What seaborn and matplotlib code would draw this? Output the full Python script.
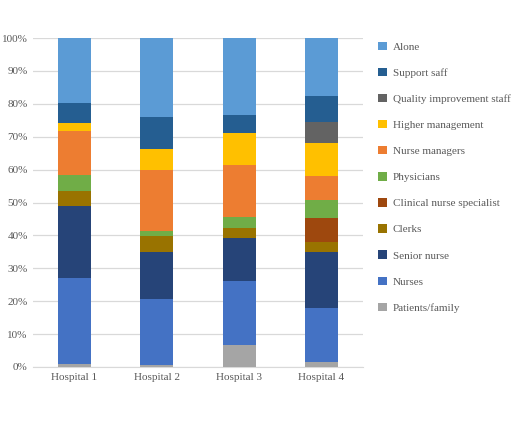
import numpy as np
import pandas as pd
import matplotlib
matplotlib.use("Agg")
import matplotlib.pyplot as plt
import seaborn as sns
from matplotlib.patches import Patch

hospitals = ["Hospital 1", "Hospital 2", "Hospital 3", "Hospital 4"]

# bottom-to-top stacking order
patients_family = [1.0, 0.5, 6.6, 1.5]
nurses = [26.1, 20.2, 19.6, 16.5]
senior_nurse = [21.7, 14.4, 13.0, 17.1]
clerks = [4.7, 4.6, 3.2, 3.0]
clinical_nurse_specialist = [0.0, 0.0, 0.0, 7.2]
physicians = [4.8, 1.7, 3.3, 5.5]
nurse_managers = [13.5, 18.4, 15.8, 7.4]
higher_management = [2.3, 6.4, 9.7, 9.9]
quality_improvement = [0.0, 0.0, 0.0, 6.4]
support_saff = [6.2, 9.7, 5.5, 7.9]
alone = [19.7, 24.1, 23.3, 17.6]

series_names = ["Patients/family", "Nurses", "Senior nurse", "Clerks",
                "Clinical nurse specialist", "Physicians", "Nurse managers",
                "Higher management", "Quality improvement staff",
                "Support saff", "Alone"]
series_values = [patients_family, nurses, senior_nurse, clerks,
                 clinical_nurse_specialist, physicians, nurse_managers,
                 higher_management, quality_improvement, support_saff, alone]
colors = ["#A5A5A5", "#4472C4", "#264478", "#997300", "#9E480E", "#70AD47",
          "#ED7D31", "#FFC000", "#636363", "#255E91", "#5B9BD5"]

plt.rcParams["font.family"] = ["Liberation Serif", "DejaVu Serif"]
text_color = "#595959"

fig = plt.figure(figsize=(5.27, 4.32), dpi=100)
ax = fig.add_axes([0.063, 0.1505, 0.625, 0.7615])

vals = np.array(series_values)
cum = np.cumsum(vals, axis=0)
cum = cum / cum[-1] * 100

for i in range(len(series_names) - 1, -1, -1):
    df = pd.DataFrame({"Hospital": hospitals, "value": cum[i]})
    sns.barplot(data=df, x="Hospital", y="value", color=colors[i],
                width=0.4, saturation=1, ax=ax, zorder=3, linewidth=0)

ax.set_ylim(0, 100)
ax.set_xlim(-0.5, 3.5)
ax.set_yticks(np.arange(0, 101, 10))
ax.set_yticklabels([f"{v}%" for v in range(0, 101, 10)])
ax.yaxis.grid(True, color="#D9D9D9", linewidth=0.9, zorder=0)
ax.set_axisbelow(True)
for s in ["top", "right", "left"]:
    ax.spines[s].set_visible(False)
ax.spines["bottom"].set_color("#D9D9D9")
ax.tick_params(axis="both", length=0, labelsize=8, colors=text_color, pad=4)
ax.set_xlabel("")
ax.set_ylabel("")

handles = [Patch(facecolor=colors[i], edgecolor="none") for i in range(len(series_names) - 1, -1, -1)]
labels = [series_names[i] for i in range(len(series_names) - 1, -1, -1)]
fig.legend(handles, labels, loc="upper left", bbox_to_anchor=(0.699, 0.927),
           frameon=False, fontsize=8, labelcolor=text_color,
           handlelength=0.8, handleheight=0.8, handletextpad=0.5,
           labelspacing=1.44)

fig.savefig("out.png", dpi=100)
